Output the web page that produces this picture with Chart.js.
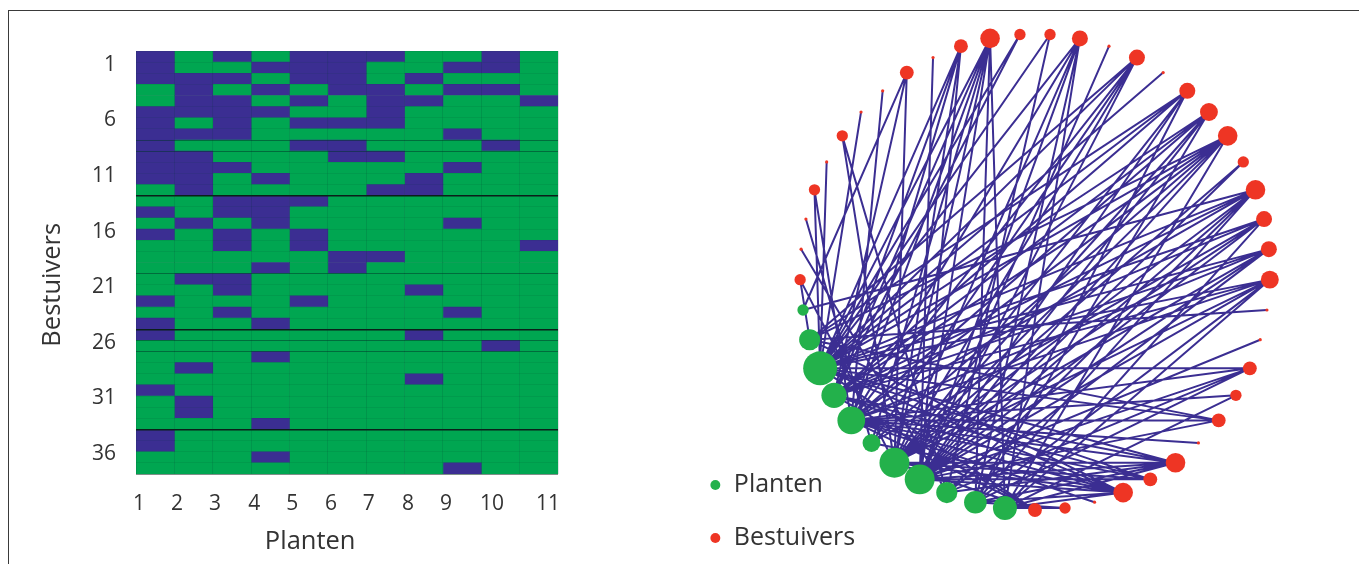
<!DOCTYPE html>
<html>
<head>
<meta charset="utf-8">
<title>Bestuivers en planten</title>
<script src="https://cdn.jsdelivr.net/npm/chart.js@4"></script>
<style>
  body { margin: 0; background: #fff; overflow: hidden; }
  #frame { position: absolute; left: 8px; top: 10px; width: 1351px; height: 554px; border-left: 1px solid #3a3a3a; border-top: 1px solid #3a3a3a; box-sizing: border-box; }
  #matrix { position: absolute; left: 0; top: 0; }
  #network { position: absolute; left: 640px; top: 0; }
</style>
</head>
<body>
<div id="frame"></div>
<canvas id="matrix" width="620" height="564"></canvas>
<canvas id="network" width="719" height="564"></canvas>
<script>
const plant1 = [1, 2, 3, 6, 7, 8, 9, 10, 11, 12, 15, 17, 23, 25, 26, 31, 35, 36];
const plant2 = [3, 4, 5, 6, 8, 10, 11, 12, 13, 16, 21, 29, 32, 33];
const plant3 = [1, 3, 5, 6, 7, 8, 11, 14, 15, 17, 18, 21, 22, 24];
const plant4 = [2, 4, 6, 12, 14, 15, 16, 20, 25, 28, 34, 37];
const plant5 = [1, 2, 3, 5, 7, 9, 14, 17, 18, 23];
const plant6 = [1, 2, 3, 4, 7, 9, 10, 19, 20];
const plant7 = [1, 4, 5, 6, 7, 10, 13, 19];
const plant8 = [3, 5, 12, 13, 22, 26, 30];
const plant9 = [2, 4, 8, 11, 16, 24, 38];
const plant10 = [1, 2, 4, 9, 27];
const plant11 = [5, 18];
const plants = [plant1, plant2, plant3, plant4, plant5, plant6, plant7, plant8, plant9, plant10, plant11];

const rowLabels = ['1','2','3','4','5','6','7','8','9','10','11','12','13','14','15','16','17','18','19',
  '20','21','22','23','24','25','26','27','28','29','30','31','32','33','34','35','36','37','38'];
const yTickLabels = ['1', '6', '11', '16', '21', '26', '31', '36'];
const xTickLabels = ['1', '2', '3', '4', '5', '6', '7', '8', '9', '10', '11'];
const xTickValues = [0.08, 1.07, 2.06, 3.08, 4.07, 5.08, 6.07, 7.09, 8.08, 9.28, 10.74];
const rowBreaks = [13, 25, 34];
const softBreaks = [8, 9, 20, 26, 27];

// place on the ring, counted clockwise from the bottom (49 places in all)
const plantSlots = [9, 4, 5, 7, 8, 1, 2, 3, 10, 6, 11];
const pollinatorSlots = [23, 32, 44, 46, 34, 31, 37, 28, 35, 26, 30, 36, 40, 22, 45, 42, 0, 20, 48, 41, 33, 17, 24,
  12, 15, 25, 14, 47, 27, 13, 16, 21, 39, 43, 18, 29, 19, 38];
// links counted in the network that have no blue cell in the matrix: [row, plant]
const extraLinks = [[8, 4], [8, 10], [10, 3], [10, 4], [11, 5], [11, 7], [6, 5], [7, 2], [7, 4], [9, 2], [9, 3],
  [12, 3], [12, 5], [13, 1], [13, 4], [14, 1], [14, 2], [15, 5], [15, 2], [16, 1], [17, 4], [1, 2], [1, 4],
  [3, 4], [3, 7], [4, 1], [4, 3], [4, 5], [5, 1], [5, 4], [2, 2], [2, 3]];

const BLUE = '#3b2e92';
const GREEN = '#00a651';
const FONT = 'Open Sans';
const TEXT = '#333333';

function ringPoint(slot) {
  const a = slot * 2 * Math.PI / 49;
  return { x: -Math.sin(a), y: -Math.cos(a) };
}
function degreeRadius(n) { return 4 * Math.sqrt(n); }

// left panel
const matrixSets = plants.map((rows, i) => ({
  label: 'Plant ' + xTickLabels[i],
  data: rowLabels.map(() => 1),
  backgroundColor: rowLabels.map((r, k) => rows.includes(k + 1) ? BLUE : GREEN),
  borderWidth: 0,
  barPercentage: 1,
  categoryPercentage: 1,
}));

const axisTitles = {
  id: 'axisTitles',
  afterDraw(chart) {
    const { ctx, scales } = chart;
    ctx.save();
    ctx.fillStyle = TEXT;
    ctx.font = '25.5px ' + FONT;
    ctx.textAlign = 'center';
    ctx.textBaseline = 'middle';
    ctx.fillText('Planten', scales.x.getPixelForValue(4.54), 542);
    ctx.translate(53, scales.y.getPixelForValue(20.5));
    ctx.rotate(-Math.PI / 2);
    ctx.fillText('Bestuivers', 0, 0);
    ctx.restore();
  }
};

new Chart(document.querySelector('#matrix'), {
  type: 'bar',
  data: { labels: rowLabels, datasets: matrixSets },
  plugins: [axisTitles],
  options: {
    indexAxis: 'y',
    responsive: false,
    animation: false,
    layout: { padding: { top: 51, right: 62, left: 0, bottom: 0 } },
    plugins: { legend: { display: false }, tooltip: { enabled: false } },
    scales: {
      y: {
        stacked: true,
        afterFit(s) { s.width = 136; },
        border: { display: false },
        grid: {
          z: 1,
          drawTicks: false,
          color(c) {
            if (rowBreaks.includes(c.index)) return '#0b1f1a';
            if (softBreaks.includes(c.index)) return 'rgba(0,50,40,0.5)';
            if (c.index === undefined) return '#7f8f88';
            return 'rgba(0,60,50,0.1)';
          },
          lineWidth(c) { return rowBreaks.includes(c.index) ? 1.4 : 1; },
        },
        ticks: {
          autoSkip: false,
          maxRotation: 0,
          padding: 20,
          labelOffset: 8,
          color: TEXT,
          font: { family: FONT, size: 21 },
          callback(v) {
            const t = this.getLabelForValue(v);
            return yTickLabels.includes(t) ? t : '';
          },
        },
      },
      x: {
        stacked: true,
        min: 0,
        max: 11,
        afterFit(s) { s.height = 90; },
        afterBuildTicks(s) { s.ticks = xTickValues.map(v => ({ value: v })); },
        border: { display: false },
        grid: { display: false },
        ticks: {
          autoSkip: false,
          maxRotation: 0,
          padding: 9,
          color: TEXT,
          font: { family: FONT, size: 21 },
          callback(v, i) { return xTickLabels[i]; },
        },
      },
      cols: {
        axis: 'x',
        position: 'bottom',
        min: 0,
        max: 11,
        afterFit(s) { s.height = 0; },
        border: { display: false },
        grid: { z: 1, drawTicks: false, color: 'rgba(0,60,50,0.14)', borderDash: [2, 5] },
        ticks: { display: false, stepSize: 1 },
      },
    },
  },
});

// right panel: every blue cell of the matrix is one link, plus the extra ones
const linkPoints = [];
function addLink(row, plant) {
  linkPoints.push(ringPoint(plantSlots[plant - 1]), ringPoint(pollinatorSlots[row - 1]), { x: null, y: null });
}
plants.forEach((rows, p) => rows.forEach(r => addLink(r, p + 1)));
extraLinks.forEach(l => addLink(l[0], l[1]));
const plantDegree = plants.map(rows => rows.length);
const pollinatorDegree = rowLabels.map((r, k) => plants.filter(rows => rows.includes(k + 1)).length);

const placeLegend = {
  id: 'placeLegend',
  afterLayout(chart) {
    const lg = chart.legend;
    lg.left = chart.scales.x.getPixelForValue(-1.505);
    lg.right = lg.left + 200;
    lg.top = chart.scales.y.getPixelForValue(-0.725);
    lg.bottom = lg.top + 200;
  }
};

new Chart(document.querySelector('#network'), {
  type: 'scatter',
  data: {
    datasets: [
      {
        label: 'Planten',
        data: plantSlots.map(ringPoint),
        backgroundColor: '#23b14b',
        borderWidth: 0,
        pointRadius: plantDegree.map(degreeRadius),
        clip: false,
      },
      {
        label: 'Bestuivers',
        data: pollinatorSlots.map(ringPoint),
        backgroundColor: '#ee3524',
        borderWidth: 0,
        pointRadius: pollinatorDegree.map(d => d === 1 ? 1.6 : degreeRadius(d)),
        clip: false,
      },
      {
        label: '',
        data: linkPoints,
        showLine: true,
        spanGaps: false,
        borderColor: BLUE,
        borderWidth: 2,
        pointRadius: 0,
        clip: false,
      },
    ],
  },
  plugins: [placeLegend],
  options: {
    responsive: false,
    animation: false,
    layout: { autoPadding: false },
    plugins: {
      tooltip: { enabled: false },
      legend: {
        position: 'chartArea',
        align: 'start',
        labels: {
          usePointStyle: true,
          pointStyle: 'circle',
          boxWidth: 12,
          boxHeight: 7,
          padding: 28,
          color: TEXT,
          font: { family: FONT, size: 25 },
          filter: item => item.text !== '',
        },
      },
    },
    scales: {
      x: { display: false, min: -1.681, max: 1.379 },
      y: { display: false, min: -1.227, max: 1.143 },
    },
  },
});
</script>
</body>
</html>
